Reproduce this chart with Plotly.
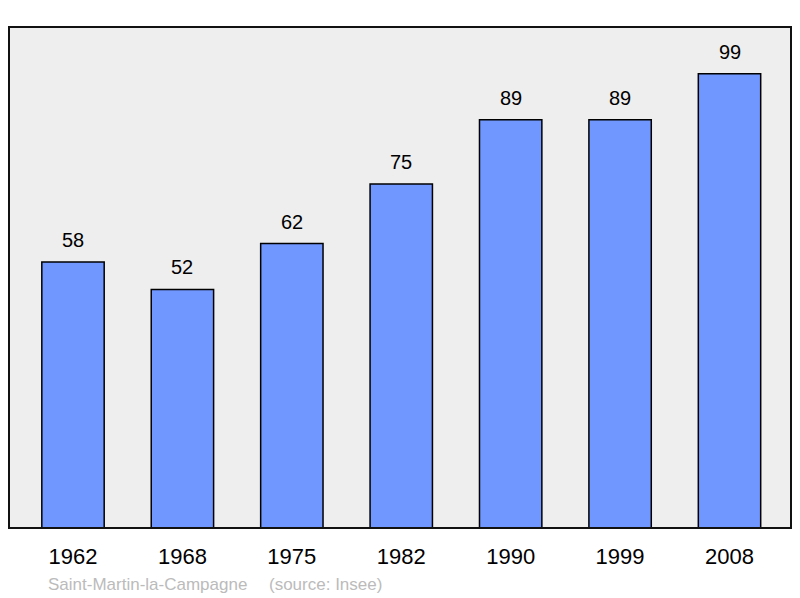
import plotly.graph_objects as go

years = ["1962", "1968", "1975", "1982", "1990", "1999", "2008"]
population = [58, 52, 62, 75, 89, 89, 99]
commune = "Saint-Martin-la-Campagne"
source = "(source: Insee)"

pos = list(range(len(years)))

fig = go.Figure()
fig.add_trace(go.Bar(
    x=pos,
    y=population,
    width=0.57,
    marker=dict(color="#7096ff", line=dict(color="black", width=1.5)),
    hoverinfo="skip"
))

# value labels above each bar
for p, v in zip(pos, population):
    fig.add_annotation(
        x=p, y=v, text=str(v), showarrow=False,
        yanchor="bottom", yshift=9,
        font=dict(size=20, color="black", family="Liberation Sans")
    )

# footer
fig.add_annotation(
    xref="paper", yref="paper", x=0.047, y=-0.112, xanchor="left", yanchor="middle",
    text=commune, showarrow=False,
    font=dict(size=17, color="#bbbbbb", family="Liberation Sans")
)
fig.add_annotation(
    xref="paper", yref="paper", x=0.330, y=-0.112, xanchor="left", yanchor="middle",
    text=source, showarrow=False,
    font=dict(size=17, color="#bbbbbb", family="Liberation Sans")
)

# plot frame
fig.add_shape(
    type="rect", xref="paper", yref="paper", x0=0, y0=0, x1=1, y1=1,
    line=dict(color="#111111", width=2), layer="above"
)

fig.update_layout(
    width=800, height=598,
    margin=dict(l=9, r=9, t=27, b=70),
    paper_bgcolor="white",
    plot_bgcolor="#eeeeee",
    showlegend=False,
    xaxis=dict(
        range=[-0.585, 6.562],
        tickvals=pos, ticktext=years,
        ticks="outside", ticklen=9, tickcolor="rgba(0,0,0,0)",
        showgrid=False, zeroline=False,
        tickfont=dict(size=22, color="black", family="Liberation Sans")
    ),
    yaxis=dict(
        range=[0, 109.2],
        showticklabels=False, showgrid=False, zeroline=False
    )
)

fig.write_html("out.html", config={"displayModeBar": False},
               post_script="document.body.style.margin='0';")
